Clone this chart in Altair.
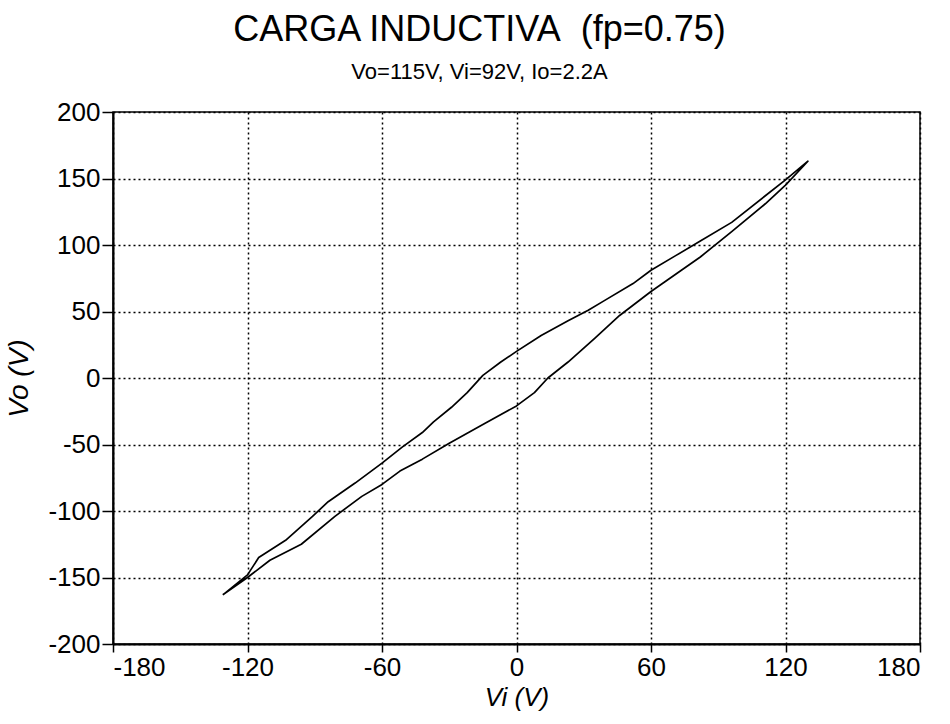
import altair as alt
import pandas as pd

# Vo versus Vi trace for an inductive load (pf = 0.75)
upper_vi = [-131, -120, -115, -103, -91, -84, -72, -60, -51, -42, -37, -29, -22, -15, -7, 0,
            11, 23, 32, 39, 52, 60, 71, 82, 96, 111, 120, 130]
upper_vo = [-163, -148, -135, -122, -104, -93, -79, -64, -52, -41, -33, -22, -11, 2, 12, 20,
            32, 43, 51, 58, 71, 81, 92, 103, 117, 137, 149, 163]

lower_vi = [130, 120, 111, 96, 82, 71, 60, 46, 35, 23, 14, 8, 0, -15, -30, -42, -52, -60,
            -69, -81, -96, -110, -120, -131]
lower_vo = [163, 145, 131, 110, 91, 78, 65, 47, 30, 12, 0, -11, -21, -35, -49, -61, -70, -80,
            -89, -104, -125, -137, -150, -163]

x_ticks = [-180, -120, -60, 0, 60, 120, 180]
y_ticks = [-200, -150, -100, -50, 0, 50, 100, 150, 200]

vi = upper_vi + lower_vi
vo = upper_vo + lower_vo
df = pd.DataFrame({"Vi": vi, "Vo": vo, "step": list(range(len(vi)))})

FONT = "Liberation Sans"

chart = (
    alt.Chart(df)
    .mark_line(color="black", strokeWidth=1.7, strokeJoin="round")
    .encode(
        x=alt.X(
            "Vi:Q",
            scale=alt.Scale(domain=[-180, 180], nice=False, zero=False),
            axis=alt.Axis(
                values=x_ticks,
                labelExpr="toString(datum.value)",
                title="Vi (V)",
                titleFontStyle="italic",
                titleFontWeight="normal",
                titleFontSize=26,
                titlePadding=4,
                labelFontSize=26,
                labelPadding=2,
                tickSize=8,
            ),
        ),
        y=alt.Y(
            "Vo:Q",
            scale=alt.Scale(domain=[-200, 200], nice=False, zero=False),
            axis=alt.Axis(
                values=y_ticks,
                labelExpr="toString(datum.value)",
                title="Vo (V)",
                titleFontStyle="italic",
                titleFontWeight="normal",
                titleFontSize=28,
                titleAngle=270,
                titleAlign="center",
                titleBaseline="middle",
                titleX=-94,
                titleY=266,
                labelFontSize=26,
                labelPadding=2,
                tickSize=11,
            ),
        ),
        order="step:Q",
    )
    .properties(
        width=807,
        height=532,
        title=alt.Title(
            "CARGA INDUCTIVA\u00a0 (fp=0.75)",
            subtitle="Vo=115V, Vi=92V, Io=2.2A",
            font=FONT,
            subtitleFont=FONT,
            fontSize=36,
            subtitleFontSize=22,
            fontWeight="normal",
            color="black",
            subtitleColor="black",
            anchor="middle",
            dx=-37,
            offset=15,
            subtitlePadding=13,
        ),
        autosize=alt.AutoSizeParams(type="none"),
        padding={"left": 113, "top": 112, "right": 30, "bottom": 80},
        background="white",
    )
    .configure_view(stroke="black", strokeWidth=1.5)
    .configure_axis(
        labelFont=FONT,
        titleFont=FONT,
        labelColor="black",
        titleColor="black",
        domainColor="black",
        domainWidth=2,
        tickColor="black",
        tickWidth=1.5,
        grid=True,
        gridColor="black",
        gridOpacity=1,
        gridWidth=1.5,
        gridDash=[2, 3],
    )
)

chart.save("out.html", embed_options={"renderer": "svg", "actions": False})
